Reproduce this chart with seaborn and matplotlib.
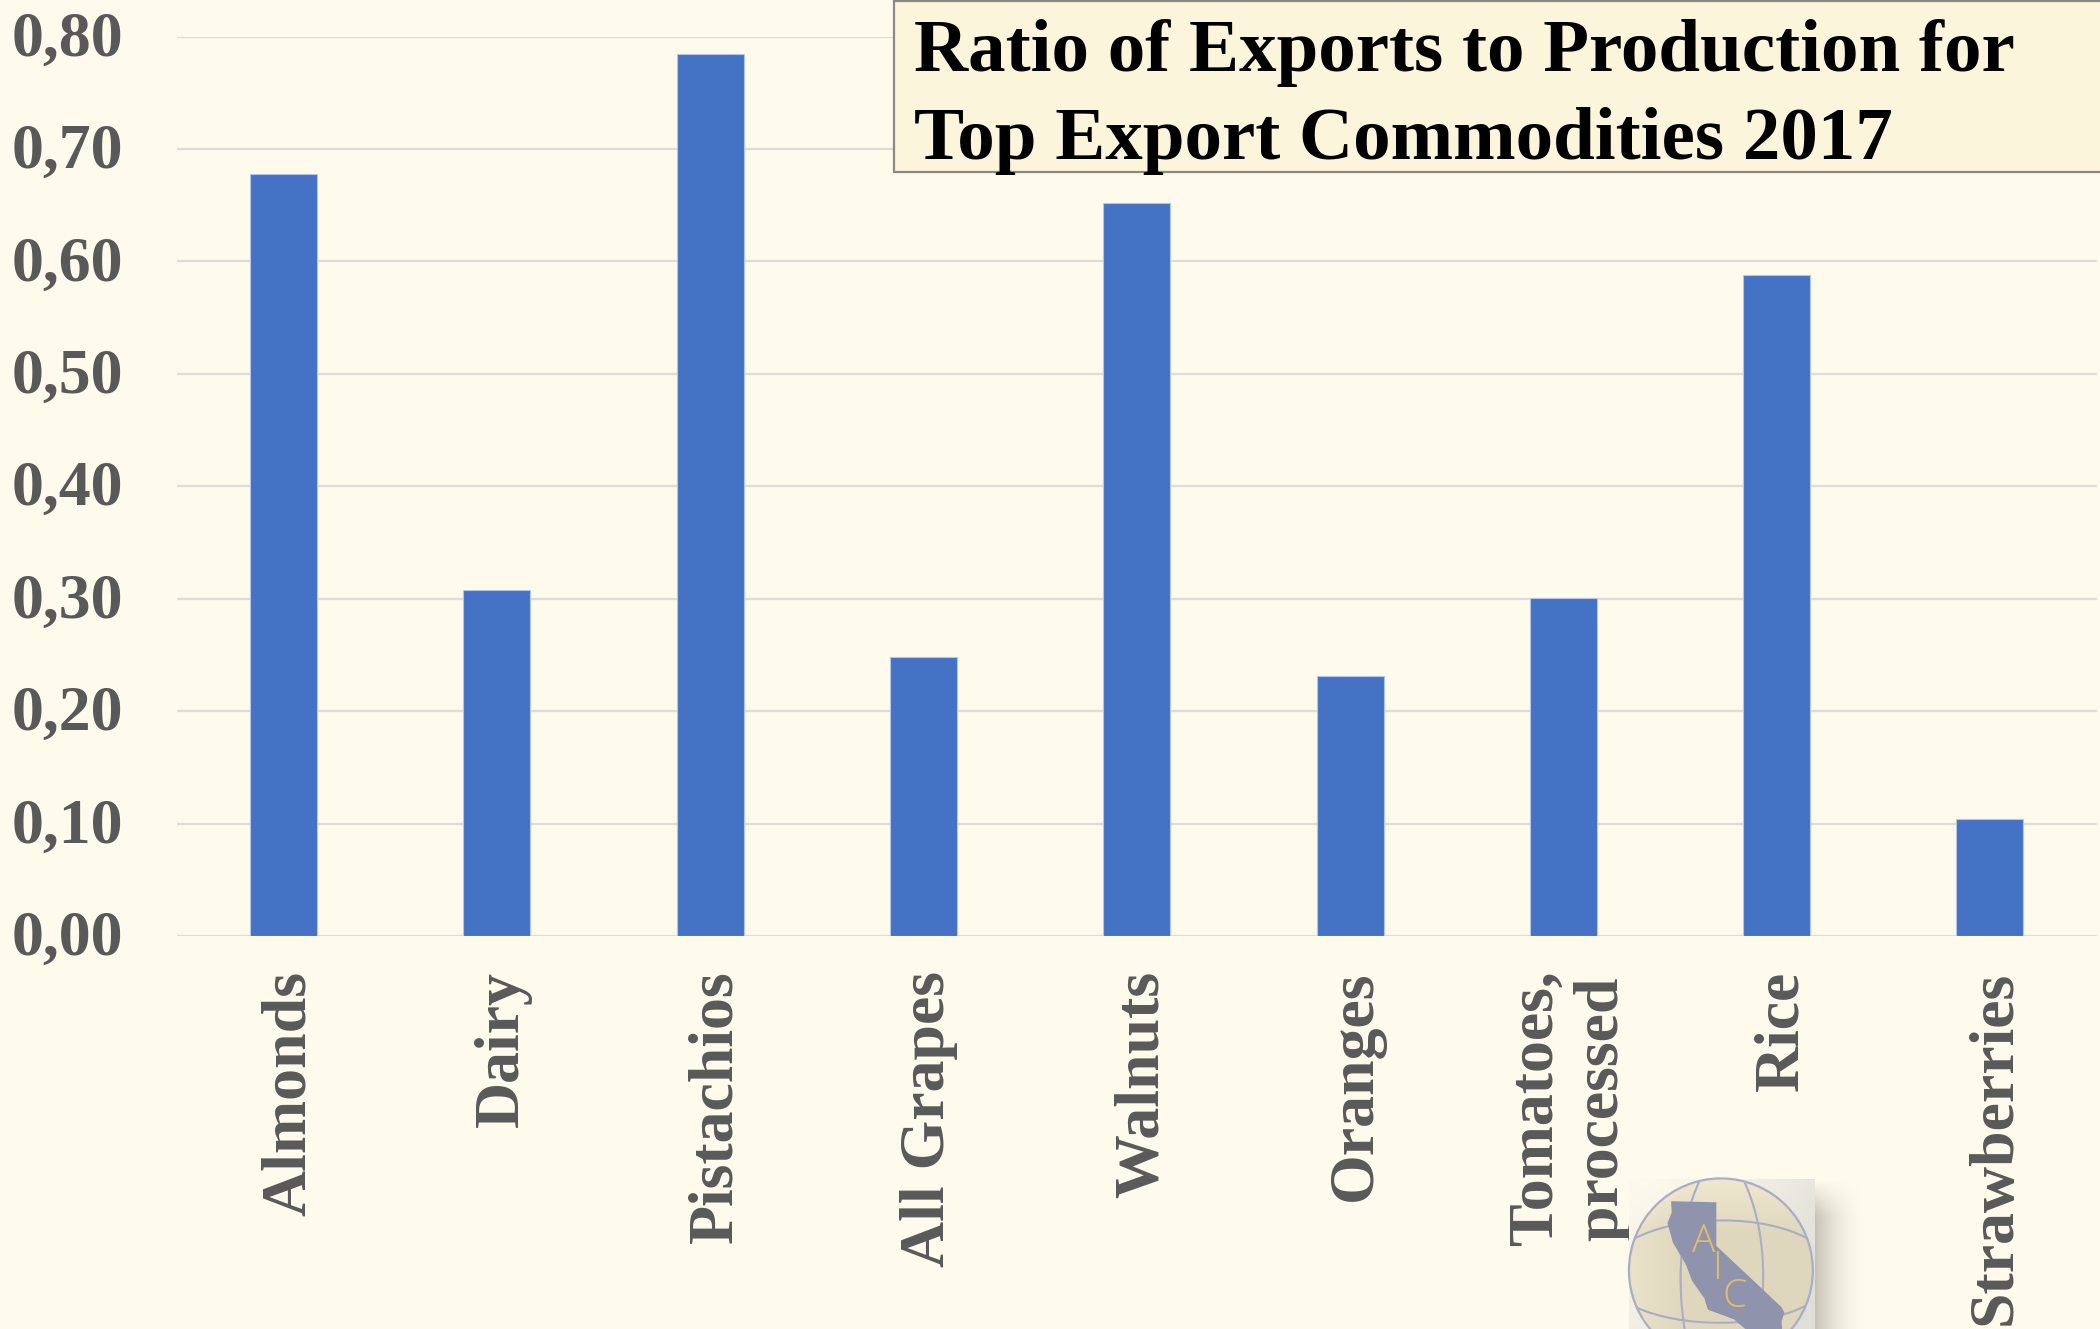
import numpy as np
import pandas as pd
import matplotlib
matplotlib.use("Agg")
import matplotlib.pyplot as plt
from matplotlib.patches import Circle, Polygon, PathPatch, Rectangle
from matplotlib.path import Path
from matplotlib.transforms import ScaledTranslation
import seaborn as sns

commodities = ["Almonds", "Dairy", "Pistachios", "All Grapes", "Walnuts",
               "Oranges", "Tomatoes,\nprocessed", "Rice", "Strawberries"]
export_ratio = [0.678, 0.3075, 0.784, 0.248, 0.652, 0.231, 0.301, 0.588, 0.104]
y_ticks = [0.0, 0.1, 0.2, 0.3, 0.4, 0.5, 0.6, 0.7, 0.8]
y_tick_labels = ["0,00", "0,10", "0,20", "0,30", "0,40", "0,50", "0,60", "0,70", "0,80"]
title_lines = "Ratio of Exports to Production for\nTop Export Commodities 2017"

BG = "#FEFAEC"
W, H = 2100, 1329

sns.set_theme(style="white")
plt.rcParams["font.family"] = ["Liberation Serif", "DejaVu Serif"]

fig = plt.figure(figsize=(W / 100, H / 100), dpi=100, facecolor=BG)
ax = fig.add_axes([177 / W, 1 - 936 / H, (2096.5 - 177) / W, (936 - 36.5) / H], facecolor=BG)

frame = pd.DataFrame({"commodity": commodities, "ratio": export_ratio})
sns.barplot(data=frame, x="commodity", y="ratio", color="#4472C4", saturation=1,
            width=0.314, edgecolor="#B4C6E7", linewidth=0.8, ax=ax, zorder=3)

ax.set_xlim(-0.5, 8.5)
ax.set_ylim(0, 0.8)
ax.set_xlabel("")
ax.set_ylabel("")
ax.set_yticks(y_ticks, y_tick_labels)
ax.yaxis.grid(True, color="#DEDCD8", linewidth=1.6, zorder=0)
ax.set_axisbelow(True)
ax.tick_params(axis="both", length=0)
ax.tick_params(axis="y", pad=39)
ax.tick_params(axis="x", pad=25)
for spine in ax.spines.values():
    spine.set_visible(False)

# Small nudges so the tick text sits where it should around the bars and gridlines
up = ScaledTranslation(0, 3 / 100, fig.dpi_scale_trans)
right = ScaledTranslation(6 / 100, 0, fig.dpi_scale_trans)
for lab in ax.get_yticklabels():
    lab.set(fontsize=46, fontweight="bold", color="#595959")
    lab.set_transform(lab.get_transform() + up)
for lab in ax.get_xticklabels():
    lab.set(fontsize=46, fontweight="bold", color="#595959", rotation=90,
            ha="center", va="top", linespacing=1.16)
    lab.set_transform(lab.get_transform() + right)

# Pixel-space overlay for the title box and the emblem
ov = fig.add_axes([0, 0, 1, 1], facecolor="none", zorder=5)
ov.set_xlim(0, W)
ov.set_ylim(H, 0)
ov.axis("off")

ov.add_patch(Rectangle((894, 1), 1300, 171, facecolor="#FBF5DC", edgecolor="#8A8A80", linewidth=1.6))
ov.text(914, 97, title_lines, fontsize=54, fontweight="bold", color="black",
        ha="left", va="center", linespacing=1.4)


def z(x, y):
    """Emblem outline coordinates to figure pixels."""
    return (1550 + x / 2.85, 1130 + y / 2.85)


box_left, box_right = z(225, 0)[0], z(753, 0)[0]
box_top = z(0, 140)[1]

# Emblem backdrop: pale panel with a soft shadow on its right side
bg_rgb = np.array(matplotlib.colors.to_rgb(BG))
gx, gy = np.meshgrid(np.linspace(0, 1, 60), np.linspace(0, 1, 50))
shade = np.clip(0.03 + 0.4 * gy + 0.7 * gx ** 1.5, 0, 1)[..., None]
panel = bg_rgb * (1 - shade) + np.array([0.875, 0.875, 0.85]) * shade
ov.imshow(panel, extent=(box_left, box_right, H, box_top), aspect="auto", zorder=2,
          interpolation="bilinear")

sx, sy = np.meshgrid(np.linspace(0, 1, 60), np.linspace(0, 1, 50))
shadow = np.zeros((50, 60, 4))
shadow[..., :3] = np.array([0.70, 0.68, 0.62])
shadow[..., 3] = 0.75 * (1 - sx) ** 2 * np.clip(sy * 4, 0, 1)
ov.imshow(shadow, extent=(box_right, box_right + 55, H, box_top), aspect="auto", zorder=1,
          interpolation="bilinear")

globe_centre = z(487, 400)
globe_r = 262 / 2.85
fx, fy = np.meshgrid(np.linspace(0, 1, 60), np.linspace(0, 1, 60))
glow = np.clip(1 - fy * 3.5, 0, 1) * 0.8 + np.clip(1 - fx * 3.5, 0, 1) * 0.5
glow = np.clip(glow, 0, 1)[..., None]
fill = np.array([0.875, 0.845, 0.745]) * (1 - glow) + np.array([0.955, 0.925, 0.83]) * glow
img = ov.imshow(fill, extent=(globe_centre[0] - globe_r, globe_centre[0] + globe_r,
                              globe_centre[1] + globe_r, globe_centre[1] - globe_r),
                aspect="auto", zorder=3, interpolation="bilinear")
img.set_clip_path(Circle(globe_centre, globe_r, transform=ov.transData))
ov.add_patch(Circle(globe_centre, globe_r, facecolor="none", edgecolor="#A9ADC6", linewidth=1.6, zorder=5))

meridians = [
    [(425, 148), (372, 260), (355, 440), (392, 610)],
    [(555, 150), (610, 270), (625, 440), (585, 610)],
    [(240, 310), (370, 240), (610, 240), (735, 310)],
    [(245, 505), (370, 565), (610, 565), (730, 500)],
]
for curve in meridians:
    path = Path([z(*p) for p in curve], [Path.MOVETO, Path.CURVE4, Path.CURVE4, Path.CURVE4])
    ov.add_patch(PathPatch(path, facecolor="none", edgecolor="#A9ADC6", linewidth=1.5, zorder=4))

state_outline = [(345, 203), (474, 206), (474, 330), (660, 505), (668, 520), (660, 545),
                 (662, 582), (572, 592), (560, 570), (525, 540), (450, 512), (440, 480),
                 (405, 430), (388, 385), (350, 320), (335, 265), (347, 235)]
ov.add_patch(Polygon([z(*p) for p in state_outline], closed=True, facecolor="#8F93AB",
                     edgecolor="none", zorder=6))
for letter, pos in zip("AIC", [(437, 318), (476, 395), (527, 475)]):
    x, y = z(*pos)
    ov.text(x, y, letter, family="Open Sans", fontweight="light", fontsize=28, color="#E0BE6A",
            ha="center", va="center", zorder=7)

ov.set_xlim(0, W)
ov.set_ylim(H, 0)

fig.savefig("out.png", dpi=100, facecolor=BG)
